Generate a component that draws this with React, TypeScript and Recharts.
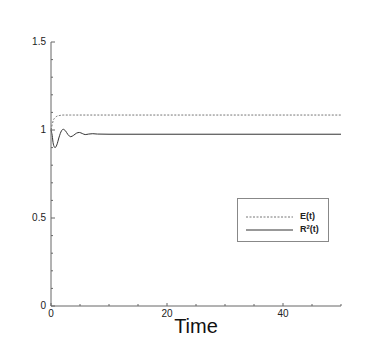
import React from 'react';
import { LineChart, Line, XAxis, YAxis } from 'recharts';

const times = [0, 0.2, 0.4, 0.7, 1.0, 1.4, 1.8, 2.1, 2.5, 2.9, 3.4, 3.9, 4.4, 4.9, 5.4, 5.9, 6.5, 7.2, 8, 10, 15, 20, 30, 40, 50];
const eValues = [1.0, 1.03, 1.055, 1.07, 1.078, 1.082, 1.084, 1.085, 1.085, 1.085, 1.085, 1.085, 1.085, 1.085, 1.085, 1.085, 1.085, 1.085, 1.085, 1.085, 1.085, 1.085, 1.085, 1.085, 1.085];
const r2Values = [1.0, 0.97, 0.92, 0.9, 0.915, 0.96, 0.995, 1.004, 0.995, 0.975, 0.962, 0.97, 0.982, 0.986, 0.98, 0.974, 0.977, 0.979, 0.977, 0.976, 0.976, 0.976, 0.976, 0.976, 0.976];

const yTicks = [0, 0.1, 0.2, 0.3, 0.4, 0.5, 0.6, 0.7, 0.8, 0.9, 1, 1.1, 1.2, 1.3, 1.4, 1.5];
const yLabels = ['0', '0.5', '1', '1.5'];
const xTicks = [0, 5, 10, 15, 20, 25, 30, 35, 40, 45, 50];
const xLabels = ['0', '20', '40'];

const data = times.map((t, i) => ({ t, E: eValues[i], R2: r2Values[i] }));

const FONT = '"Liberation Sans", Arial, sans-serif';
const AXIS = '#666';

const YTick = (props: any) => {
  const { x, y, payload } = props;
  const v = Math.round(payload.value * 10) / 10;
  const label = String(v);
  const major = yLabels.includes(label);
  return (
    <g>
      <line x1={x} y1={y} x2={x + (major ? 4 : 2)} y2={y} stroke={AXIS} strokeWidth={1} />
      {major && (
        <text x={x - 5} y={y} dy={3} textAnchor="end" fontSize={10} fontFamily={FONT} fill="#222">
          {label}
        </text>
      )}
    </g>
  );
};

const XTick = (props: any) => {
  const { x, y, payload } = props;
  const label = String(payload.value);
  const major = xLabels.includes(label);
  return (
    <g>
      <line x1={x} y1={y} x2={x} y2={y - (major ? 3 : 2)} stroke={AXIS} strokeWidth={1} />
      {major && (
        <text x={x} y={y} dy={11} textAnchor="middle" fontSize={10} fontFamily={FONT} fill="#222">
          {label}
        </text>
      )}
    </g>
  );
};

const LegendBox = () => (
  <div
    style={{
      position: 'absolute',
      left: 237,
      top: 198,
      width: 92,
      height: 44,
      boxSizing: 'border-box',
      border: '1px solid #888',
      background: '#fff',
      fontFamily: FONT,
      fontSize: 9,
      fontWeight: 'bold',
      color: '#222',
    }}
  >
    <svg width={60} height={40} style={{ position: 'absolute', left: 0, top: 0 }}>
      <line x1={8} y1={18} x2={55} y2={18} stroke="#777" strokeDasharray="2 1.5" strokeWidth={1} />
      <line x1={8} y1={31} x2={55} y2={31} stroke="#333" strokeWidth={1} />
    </svg>
    <div style={{ position: 'absolute', left: 62, top: 12, lineHeight: '10px' }}>E(t)</div>
    <div style={{ position: 'absolute', left: 62, top: 25, lineHeight: '10px' }}>
      R<sup style={{ fontSize: 6, verticalAlign: 'top', lineHeight: '6px' }}>2</sup>(t)
    </div>
  </div>
);

export default function App() {
  return (
    <div style={{ position: 'absolute', left: 0, top: 0, width: 388, height: 345, background: '#fff' }}>
      <LineChart width={388} height={345} data={data} margin={{ top: 42, right: 47, left: 0, bottom: 0 }}>
        <XAxis
          dataKey="t"
          type="number"
          domain={[0, 50]}
          ticks={xTicks}
          interval={0}
          height={39}
          tickSize={0}
          tickMargin={0}
          tickLine={false}
          axisLine={{ stroke: AXIS }}
          tick={<XTick />}
          label={{ value: 'Time', position: 'insideBottom', offset: 12, fontSize: 20, fontFamily: FONT, fill: '#111' }}
        />
        <YAxis
          type="number"
          domain={[0, 1.5]}
          ticks={yTicks}
          interval={0}
          width={51}
          tickSize={0}
          tickMargin={0}
          tickLine={false}
          axisLine={{ stroke: AXIS }}
          tick={<YTick />}
        />
        <Line
          type="monotone"
          dataKey="E"
          stroke="#777"
          strokeWidth={1}
          strokeDasharray="2 1.5"
          dot={false}
          isAnimationActive={false}
        />
        <Line type="monotone" dataKey="R2" stroke="#333" strokeWidth={1} dot={false} isAnimationActive={false} />
      </LineChart>
      <LegendBox />
    </div>
  );
}
